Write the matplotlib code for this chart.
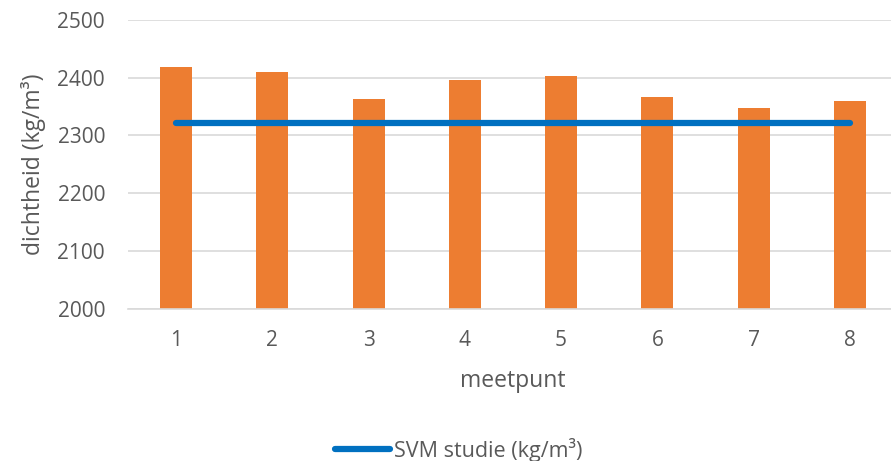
import matplotlib.pyplot as plt

# meetpunten en gemeten dichtheid
meetpunt = [1, 2, 3, 4, 5, 6, 7, 8]
dichtheid = [2419, 2410, 2363, 2396, 2403, 2367, 2348, 2359]
svm_studie = [2321] * len(meetpunt)

plt.rcParams['font.family'] = ['Open Sans', 'DejaVu Sans']
tekstkleur = '#595959'

fig = plt.figure(figsize=(8.91, 4.61), dpi=100)
ax = fig.add_axes([128 / 891, 1 - 308.7 / 461, 770 / 891, 289 / 461])

ax.bar(meetpunt, dichtheid, width=0.333, color='#ED7D31', zorder=2)
ax.plot(meetpunt, svm_studie, color='#0070C0', linewidth=4.5,
        solid_capstyle='round', zorder=3, label='SVM studie (kg/m³)')

ax.set_xlim(0.5, 8.5)
ax.set_ylim(2000, 2500)
ax.set_yticks(range(2000, 2501, 100))
ax.set_xticks(meetpunt)
ax.grid(axis='y', color='#D9D9D9', linewidth=1.2, zorder=0)
ax.set_axisbelow(True)

for side in ['top', 'right', 'left']:
    ax.spines[side].set_visible(False)
ax.spines['bottom'].set_color('#D9D9D9')
ax.spines['bottom'].set_linewidth(1.2)

ax.tick_params(axis='both', length=0, labelsize=15, colors=tekstkleur)
ax.tick_params(axis='y', pad=16.5)
ax.tick_params(axis='x', pad=15.5)

ax.set_xlabel('meetpunt', fontsize=16.5, color=tekstkleur, labelpad=13)
ax.set_ylabel('dichtheid (kg/m³)', fontsize=16.5, color=tekstkleur, labelpad=8)

fig.legend(loc='center', bbox_to_anchor=(459 / 891, 1 - 450 / 461),
           frameon=False, fontsize=15.5, handlelength=2.55, handletextpad=0.2,
           labelcolor=tekstkleur)

fig.savefig('out.png', dpi=100)
